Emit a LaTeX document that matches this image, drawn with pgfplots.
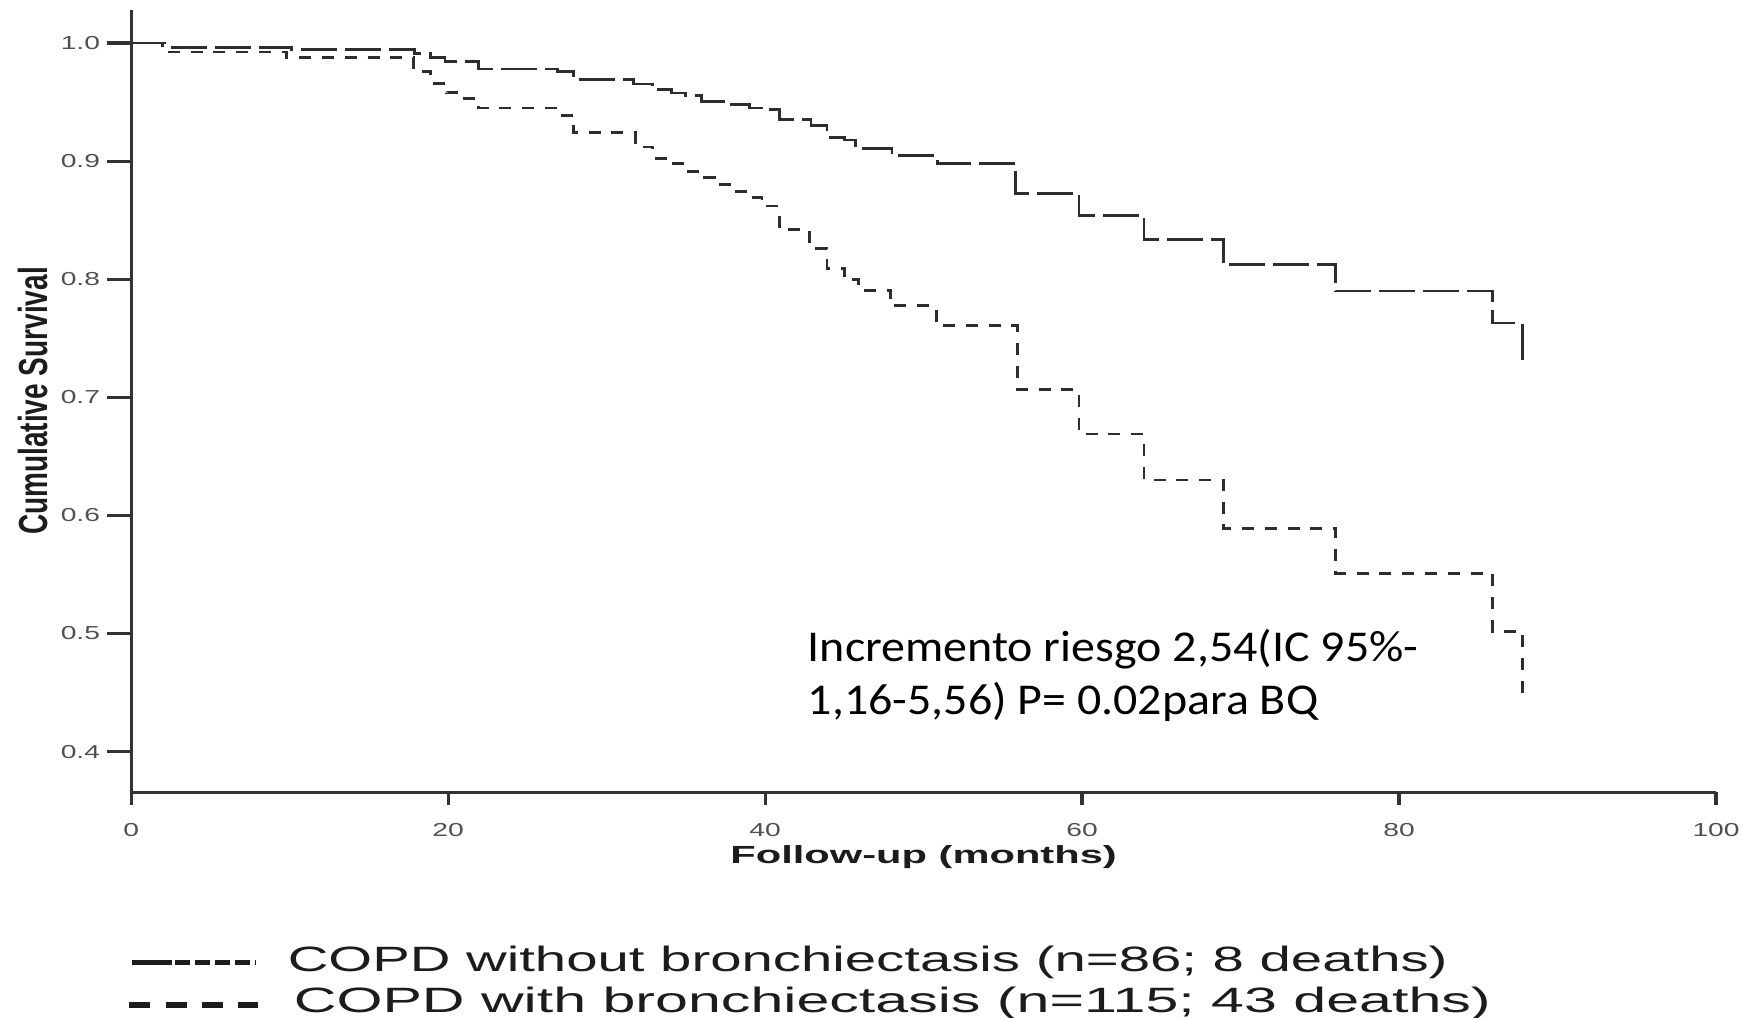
\documentclass[border=0pt]{standalone}
\usepackage{fontspec}
\setmainfont{Liberation Sans}
\usepackage{graphicx}
\usepackage{pgfplots}
\pgfplotsset{compat=1.18}
\newfontfamily\ticksans[FakeStretch=1.5]{Liberation Sans}
\newfontfamily\labsans[FakeStretch=1.68]{Liberation Sans}
\newfontfamily\legsansa[FakeStretch=1.60]{Liberation Sans}
\newfontfamily\legsansb[FakeStretch=1.68]{Liberation Sans}
\newfontfamily\annfont[FakeStretch=1.09]{Carlito}
\definecolor{axgray}{RGB}{51,51,51}
\definecolor{tickgray}{RGB}{80,80,80}
\definecolor{curvegray}{RGB}{45,45,45}
\definecolor{txt}{RGB}{28,28,28}

\begin{document}
\begin{tikzpicture}
\useasboundingbox (0,0) rectangle (438.25pt,254.25pt);
\begin{axis}[
  at={(32.8pt,56.2pt)}, anchor=south west,
  scale only axis, width=396.2pt, height=195.6pt,
  xmin=0, xmax=100, ymin=0.3656, ymax=1.0282,
  axis lines=left,
  axis line style={-, line width=0.8pt, draw=axgray},
  xtick={0,20,40,60,80,100},
  ytick={0.4,0.5,0.6,0.7,0.8,0.9,1.0},
  tick align=outside,
  tick style={line width=0.8pt, draw=axgray},
  xtick style={/pgfplots/major tick length=3.2pt},
  ytick style={/pgfplots/major tick length=6pt},
  /pgf/number format/assume math mode=true,
  tick label style={font=\ticksans\fontsize{4.7}{5}\selectfont, text=tickgray},
  yticklabel style={/pgf/number format/.cd, fixed, fixed zerofill, precision=1},
  xticklabel style={/pgf/number format/.cd, fixed, precision=0},
  xlabel={\labsans\bfseries Follow-up (months)},
  xlabel style={at={(axis description cs:0.5,-0.0905)}, anchor=base, font=\fontsize{6.2}{7}\selectfont, text=txt},
  ylabel={\scalebox{1}[1.45]{\bfseries Cumulative Survival}},
  ylabel style={at={(axis description cs:-0.0621,0.5)}, anchor=center, font=\fontsize{7}{8}\selectfont, text=txt},
  clip=false,
]
% COPD without bronchiectasis
\addplot[const plot, color=curvegray, line width=0.7pt, dash pattern=on 9pt off 2pt] table {
x y
0 1.0
2.0 0.9963
10.1 0.9949
17.9 0.9915
18.9 0.988
19.8 0.9844
21.9 0.978
26.9 0.976
27.9 0.969
31.7 0.9653
32.9 0.961
34.1 0.9577
35.0 0.9554
36.0 0.9505
37.7 0.948
39.0 0.945
39.8 0.9435
40.9 0.935
42.9 0.930
43.9 0.920
45.0 0.918
45.7 0.911
48.0 0.9045
50.9 0.8978
55.8 0.8724
59.8 0.854
63.9 0.834
68.9 0.8122
76.0 0.790
85.9 0.763
87.8 0.7275
};
% COPD with bronchiectasis
\addplot[const plot, color=curvegray, line width=0.7pt, dash pattern=on 3pt off 2.7pt] table {
x y
0 1.0
2.4 0.9924
9.8 0.9878
17.8 0.976
18.9 0.966
19.9 0.958
20.9 0.953
21.9 0.945
26.9 0.939
27.9 0.924
31.8 0.912
32.9 0.9026
33.9 0.898
34.9 0.891
35.9 0.886
36.8 0.880
37.9 0.874
39.0 0.869
39.8 0.862
40.9 0.842
42.8 0.826
43.9 0.8094
45.0 0.7995
45.9 0.7905
47.9 0.7775
50.8 0.7606
55.9 0.7064
59.8 0.669
63.9 0.630
68.9 0.589
76.0 0.551
85.9 0.5017
87.8 0.4424
};
\end{axis}
% annotation
\node[anchor=base west, inner sep=0pt, text=black, font=\annfont\fontsize{11}{13}\selectfont] at (201.75pt,88.75pt) {Incremento riesgo 2,54(IC 95\%-};
\node[anchor=base west, inner sep=0pt, text=black, font=\annfont\fontsize{11}{13}\selectfont] at (201.75pt,75.5pt) {1,16-5,56) P= 0.02para BQ};
% legend
\draw[line width=1.3pt, color=txt] (32.9pt,13.6pt) -- (42.9pt,13.6pt);
\draw[line width=1.3pt, color=txt, dash pattern=on 3.75pt off 1.25pt] (43.75pt,13.6pt) -- (63.8pt,13.6pt);
\draw[line width=1.3pt, color=txt, dash pattern=on 5.3pt off 3.8pt] (32.3pt,3.0pt) -- (64.6pt,3.0pt);
\node[anchor=base west, inner sep=0pt, text=txt, font=\legsansa\fontsize{8.8}{10}\selectfont] at (71.75pt,11.4pt) {COPD without bronchiectasis (n=86; 8 deaths)};
\node[anchor=base west, inner sep=0pt, text=txt, font=\legsansb\fontsize{8.8}{10}\selectfont] at (73.25pt,1.2pt) {COPD with bronchiectasis (n=115; 43 deaths)};
\end{tikzpicture}
\end{document}
